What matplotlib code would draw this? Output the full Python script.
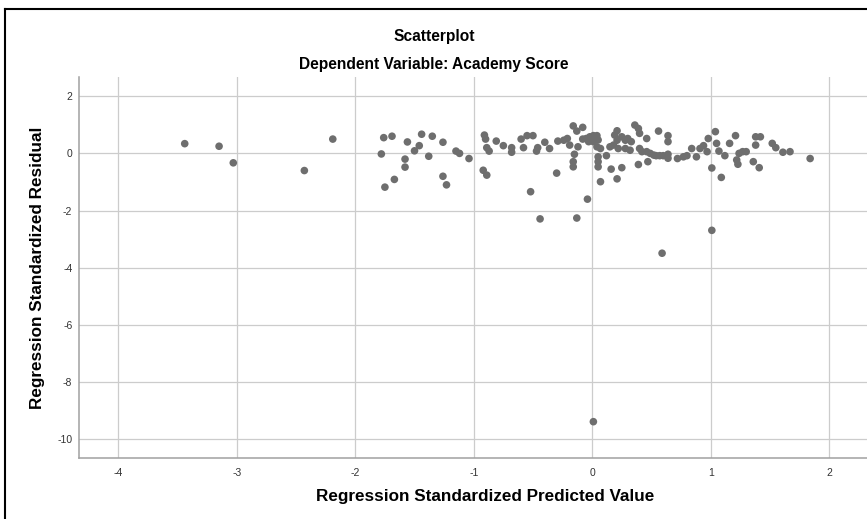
import matplotlib
matplotlib.use("Agg")
import matplotlib.pyplot as plt
from matplotlib.lines import Line2D

plt.rcParams['font.family'] = ['Liberation Sans', 'DejaVu Sans']
plt.rcParams['axes.unicode_minus'] = False

# standardized predicted values (x) and standardized residuals (y)
pred = [
    -3.44, -3.15, -3.03, -2.43, -2.19,
    -1.76, -1.69, -1.78, -1.56, -1.58, -1.58, -1.67, -1.75, -1.50, -1.46,
    -1.44, -1.38, -1.35, -1.26, -1.26, -1.23, -1.15, -1.12, -1.04,
    -0.92, -0.89, -0.91, -0.90, -0.89, -0.87, -0.81, -0.75, -0.68, -0.68,
    -0.60, -0.58, -0.55, -0.50, -0.47, -0.46, -0.40, -0.36,
    -0.52, -0.44, -0.30, -0.29, -0.24, -0.21, -0.19, -0.16, -0.13, -0.08,
    -0.12, -0.15, -0.16, -0.16, -0.13, -0.04, -0.08, -0.05, -0.02, -0.03,
    0.01, 0.04, 0.05, 0.01, 0.04, 0.07, 0.05, 0.05, 0.05, 0.07,
    0.12, 0.15, 0.18, 0.21, 0.19, 0.22, 0.16, 0.25, 0.21, 0.01,
    0.21, 0.25, 0.28, 0.30, 0.33, 0.28, 0.32, 0.36, 0.39, 0.40,
    0.46, 0.40, 0.42, 0.46, 0.49, 0.47, 0.39,
    0.52, 0.54, 0.57, 0.60, 0.64, 0.64, 0.56, 0.64, 0.64, 0.59,
    0.72, 0.77, 0.80, 0.84, 0.88, 0.91, 0.94, 0.97, 0.98,
    1.04, 1.05, 1.07, 1.01, 1.09, 1.01, 1.12, 1.16, 1.21, 1.22,
    1.23, 1.24, 1.27, 1.30, 1.36, 1.38, 1.38, 1.42, 1.41, 1.52,
    1.55, 1.61, 1.67, 1.84,
]
resid = [
    0.34, 0.25, -0.33, -0.60, 0.50,
    0.55, 0.60, -0.02, 0.40, -0.20, -0.48, -0.91, -1.18, 0.09, 0.27,
    0.67, -0.10, 0.60, 0.39, -0.80, -1.10, 0.08, 0.00, -0.18,
    -0.59, -0.76, 0.64, 0.50, 0.20, 0.08, 0.43, 0.27, 0.20, 0.04,
    0.50, 0.20, 0.62, 0.62, 0.08, 0.20, 0.39, 0.17,
    -1.34, -2.29, -0.69, 0.43, 0.46, 0.52, 0.29, 0.96, 0.78, 0.91,
    0.23, -0.03, -0.29, -0.47, -2.26, -1.60, 0.50, 0.52, 0.58, 0.41,
    0.62, 0.62, 0.47, 0.41, 0.23, 0.17, -0.12, -0.29, -0.47, -0.99,
    -0.08, 0.23, 0.29, 0.79, 0.64, 0.17, -0.55, -0.50, -0.89, -9.38,
    0.46, 0.58, 0.46, 0.52, 0.41, 0.17, 0.11, 0.99, 0.87, 0.70,
    0.52, 0.17, 0.06, 0.06, 0.00, -0.29, -0.39,
    -0.06, -0.08, -0.08, -0.08, -0.03, -0.17, 0.78, 0.62, 0.41, -3.49,
    -0.18, -0.12, -0.08, 0.17, -0.12, 0.17, 0.27, 0.06, 0.52,
    0.76, 0.35, 0.08, -0.51, -0.84, -2.69, -0.08, 0.35, 0.62, -0.23,
    -0.38, 0.00, 0.06, 0.06, -0.29, 0.29, 0.58, 0.58, -0.50, 0.35,
    0.20, 0.04, 0.06, -0.18,
]

x_ticks = [-4, -3, -2, -1, 0, 1, 2]
y_ticks = [2, 0, -2, -4, -6, -8, -10]

W, H = 867, 519
fig = plt.figure(figsize=(W / 100, H / 100), dpi=100)
ax = fig.add_axes([79.3 / W, 1 - 458.3 / H, 1 - 79.3 / W, (458.3 - 77.3) / H])

ax.scatter(pred, resid, s=30, color='#6e6e6e', edgecolors='none', zorder=3)

ax.set_xlim(-4.33, 2.32)
ax.set_ylim(-10.66, 2.66)
ax.set_xticks(x_ticks)
ax.set_yticks(y_ticks)
ax.grid(True, color='#cccccc', linewidth=0.9)
ax.set_axisbelow(True)
ax.tick_params(length=0, labelsize=7.5, labelcolor='#333333', pad=5)
ax.tick_params(axis='x', pad=7)

for side in ['top', 'right']:
    ax.spines[side].set_visible(False)
for side in ['left', 'bottom']:
    ax.spines[side].set_color('#a0a0a0')
    ax.spines[side].set_linewidth(1.1)

ax.set_xlabel('Regression Standardized Predicted Value', fontsize=12.3, fontweight='bold')
ax.xaxis.set_label_coords((485 - 79.3) / (W - 79.3), -(489 - 458.3) / (458.3 - 77.3))
ax.set_ylabel('Regression Standardized Residual', fontsize=12.3, fontweight='bold')
ax.yaxis.set_label_coords(-(79.3 - 45) / (W - 79.3), 0.5)

fig.text(434 / W, 1 - 36 / H, 'Scatterplot', ha='center', va='center',
         fontsize=11.2, fontweight='bold')
fig.text(434 / W, 1 - 64 / H, 'Dependent Variable: Academy Score', ha='center', va='center',
         fontsize=11.2, fontweight='bold')

# outer frame (only left and top edges are inside the picture)
fig.add_artist(Line2D([5 / W, 5 / W], [0, 1 - 9 / H], color='black', linewidth=1.5))
fig.add_artist(Line2D([5 / W, 1], [1 - 9 / H, 1 - 9 / H], color='black', linewidth=1.5))

fig.savefig('out.png', dpi=100)
